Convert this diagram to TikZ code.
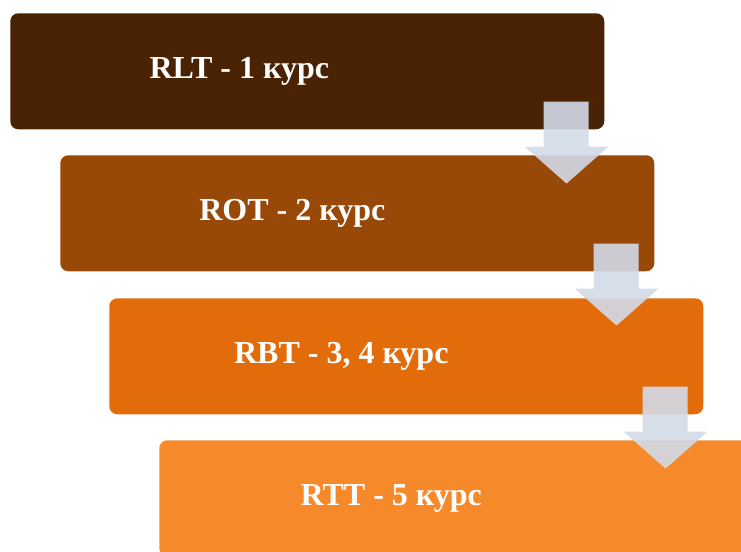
\documentclass[tikz,border=0pt]{standalone}
\usepackage{fontspec}
\setmainfont{Liberation Serif}
\usetikzlibrary{calc}
\definecolor{Level1}{RGB}{74,34,4}
\definecolor{Level2}{RGB}{152,72,7}
\definecolor{Level3}{RGB}{227,108,10}
\definecolor{Level4}{RGB}{246,138,43}
\definecolor{Flow}{RGB}{210,218,232}
\tikzset{
  course/.style={rectangle, rounded corners=6pt, minimum width=445.5pt,
    minimum height=87pt, inner sep=0pt, anchor=north west},
  coursetext/.style={text=white, font=\fontsize{24}{28}\selectfont\bfseries},
  flow/.style={fill=Flow, fill opacity=0.9, draw=none}
}
\begin{document}
\begin{tikzpicture}[x=0.75pt,y=-0.75pt]
\useasboundingbox (0,0) rectangle (741,552);
\begin{scope}
\clip (0,0) rectangle (741,552);
%% stairs of courses
\node[course, fill=Level1] (rlt) at (10,13) {};
\node[course, fill=Level2] (rot) at (60,155) {};
\node[course, fill=Level3] (rbt) at (109,298) {};
\node[course, fill=Level4] (rtt) at (159,440) {};
%% labels
\node[coursetext] (rlttext) at ($(rlt.center)+(-68,0)$) {RLT - 1 курс};
\node[coursetext] (rottext) at ($(rot.center)+(-65,0)$) {ROT - 2 курс};
\node[coursetext] (rbttext) at ($(rbt.center)+(-65,0)$) {RBT - 3, 4 курс};
\node[coursetext] (rtttext) at ($(rtt.center)+(-65,0)$) {RTT - 5 курс};
%% arrows down
\foreach \s in {rlt,rot,rbt}
{
  \draw[flow] ($(\s.south east)+(-61,-28)$) -- ($(\s.south east)+(-16,-28)$)
    -- ($(\s.south east)+(-16,17)$) -- ($(\s.south east)+(4,17)$)
    -- ($(\s.south east)+(-38,54)$) -- ($(\s.south east)+(-80,17)$)
    -- ($(\s.south east)+(-61,17)$) -- cycle;
}
\end{scope}
\end{tikzpicture}
\end{document}
